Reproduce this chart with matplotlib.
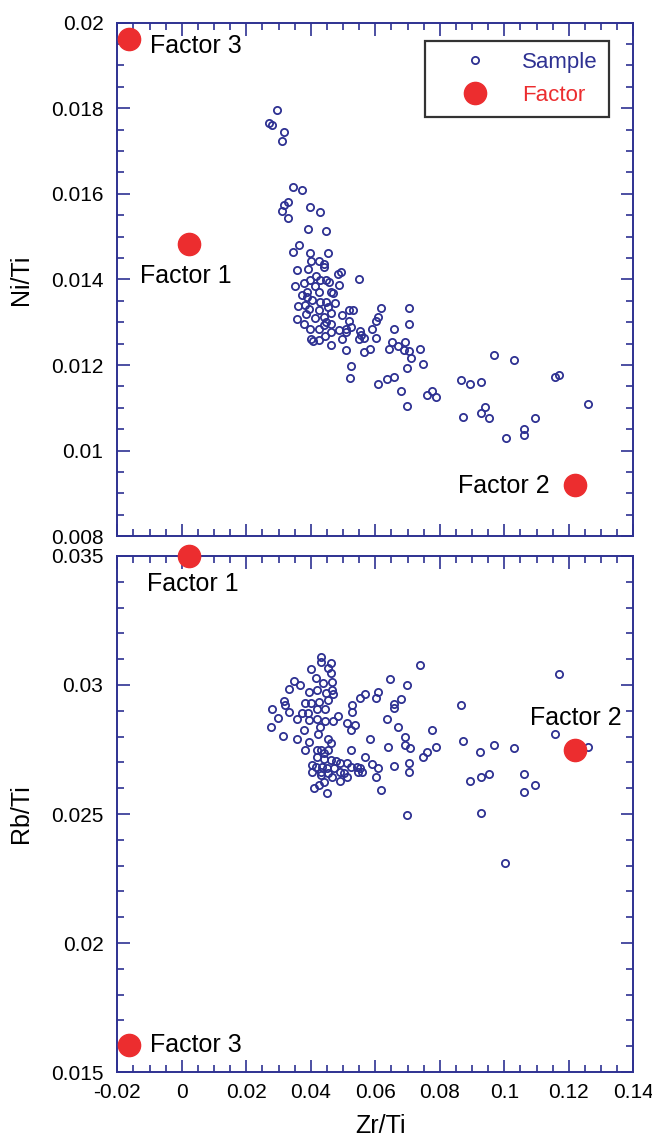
import numpy as np
import matplotlib
matplotlib.use('Agg')
import matplotlib.pyplot as plt
from matplotlib.ticker import MultipleLocator, FuncFormatter
from matplotlib.lines import Line2D

plt.rcParams['font.family'] = ['Liberation Sans', 'DejaVu Sans']

# samples, upper panel (Zr/Ti vs Ni/Ti)
zr_top = [0.0295, 0.0271, 0.0279, 0.0318, 0.0312, 0.0346, 0.0374, 0.0316, 0.0329, 0.0396,
          0.0429, 0.0312, 0.0329, 0.0390, 0.0448, 0.0362, 0.0345, 0.0396, 0.0452,
          0.0358, 0.0391, 0.0399, 0.0426, 0.0442, 0.0442, 0.0352, 0.0379, 0.0397, 0.0415,
          0.0429, 0.0448, 0.0455, 0.0484, 0.0492, 0.0486, 0.0548, 0.0388, 0.0412, 0.0426,
          0.0464, 0.0469, 0.0371, 0.0388, 0.0404, 0.0429, 0.0448, 0.0475, 0.0361, 0.0382,
          0.0393, 0.0426, 0.0453, 0.0464, 0.0386, 0.0412, 0.0442, 0.0448, 0.0464, 0.0357,
          0.0380, 0.0397, 0.0426, 0.0442, 0.0497, 0.0518, 0.0531, 0.0518, 0.0524, 0.0508,
          0.0486, 0.0497, 0.0508, 0.0464, 0.0445, 0.0399, 0.0407, 0.0426, 0.0464, 0.0508,
          0.0551, 0.0557, 0.0548, 0.0565, 0.0564, 0.0525, 0.0520,
          0.0619, 0.0607, 0.0602, 0.0591, 0.0602, 0.0584, 0.0703, 0.0659, 0.0703, 0.0651,
          0.0693, 0.0670, 0.0641, 0.0688, 0.0703, 0.0737, 0.0709, 0.0748, 0.0698, 0.0967,
          0.1029, 0.0607, 0.0636, 0.0659, 0.0680, 0.0698, 0.0760, 0.0777, 0.0788, 0.0865,
          0.0894, 0.0929, 0.0873, 0.0928, 0.0940, 0.0951, 0.1006, 0.1062, 0.1062, 0.1096,
          0.1158, 0.1170, 0.1259]
ni_top = [0.01796, 0.01766, 0.01761, 0.01744, 0.01723, 0.01616, 0.01608, 0.01575, 0.01580, 0.01569,
          0.01557, 0.01561, 0.01544, 0.01518, 0.01514, 0.01480, 0.01464, 0.01463, 0.01463,
          0.01421, 0.01425, 0.01442, 0.01442, 0.01436, 0.01429, 0.01384, 0.01391, 0.01399, 0.01409,
          0.01398, 0.01398, 0.01395, 0.01413, 0.01417, 0.01388, 0.01400, 0.01371, 0.01384, 0.01371,
          0.01371, 0.01368, 0.01363, 0.01359, 0.01351, 0.01347, 0.01347, 0.01346, 0.01337, 0.01341,
          0.01332, 0.01328, 0.01336, 0.01322, 0.01320, 0.01309, 0.01312, 0.01301, 0.01295, 0.01307,
          0.01295, 0.01285, 0.01285, 0.01293, 0.01316, 0.01328, 0.01328, 0.01303, 0.01289, 0.01285,
          0.01281, 0.01262, 0.01278, 0.01278, 0.01268, 0.01262, 0.01257, 0.01258, 0.01248, 0.01236,
          0.01279, 0.01271, 0.01262, 0.01264, 0.01231, 0.01198, 0.01169,
          0.01334, 0.01313, 0.01304, 0.01284, 0.01263, 0.01237, 0.01334, 0.01284, 0.01296, 0.01255,
          0.01255, 0.01245, 0.01237, 0.01236, 0.01234, 0.01237, 0.01216, 0.01203, 0.01194, 0.01224,
          0.01211, 0.01156, 0.01168, 0.01173, 0.01140, 0.01105, 0.01130, 0.01140, 0.01126, 0.01164,
          0.01156, 0.01160, 0.01079, 0.01087, 0.01101, 0.01076, 0.01029, 0.01050, 0.01037, 0.01076,
          0.01173, 0.01177, 0.01109]

# samples, lower panel (Zr/Ti vs Rb/Ti)
zr_bot = [0.0433, 0.0433, 0.0461, 0.0453, 0.0461, 0.0399, 0.0417, 0.0437, 0.0466, 0.0347,
          0.0366, 0.0332, 0.0394, 0.0418, 0.0446, 0.0466, 0.0469, 0.0454, 0.0425, 0.0383,
          0.0399, 0.0316, 0.0321, 0.0280, 0.0332, 0.0298, 0.0275, 0.0314, 0.0358, 0.0373,
          0.0391, 0.0418, 0.0443, 0.0418, 0.0394, 0.0443, 0.0469, 0.0484, 0.0428, 0.0378,
          0.0358, 0.0423, 0.0454, 0.0461, 0.0394, 0.0383, 0.0418, 0.0430, 0.0453, 0.0442,
          0.0523, 0.0513, 0.0523, 0.0536, 0.0528, 0.0528, 0.0551, 0.0567, 0.0420, 0.0442,
          0.0461, 0.0477, 0.0490, 0.0513, 0.0404, 0.0417, 0.0435, 0.0449, 0.0471, 0.0404,
          0.0430, 0.0454, 0.0490, 0.0502, 0.0513, 0.0523, 0.0546, 0.0551, 0.0559, 0.0567,
          0.0544, 0.0466, 0.0490, 0.0430, 0.0440, 0.0425, 0.0409, 0.0451,
          0.0584, 0.0608, 0.0601, 0.0635, 0.0639, 0.0645, 0.0590, 0.0608, 0.0601, 0.0619,
          0.0737, 0.0698, 0.0680, 0.0659, 0.0659, 0.0865, 0.0670, 0.0693, 0.0693, 0.0708,
          0.0775, 0.0788, 0.0748, 0.0760, 0.0872, 0.0926, 0.0967, 0.1029, 0.0659, 0.0703,
          0.0703, 0.0698, 0.0894, 0.0928, 0.0951, 0.0928, 0.1062, 0.1062, 0.1096, 0.1170,
          0.1158, 0.1259, 0.1001]
rb_bot = [0.03107, 0.03090, 0.03084, 0.03065, 0.03048, 0.03062, 0.03028, 0.03009, 0.03013, 0.03017,
          0.03000, 0.02984, 0.02972, 0.02981, 0.02968, 0.02981, 0.02964, 0.02942, 0.02935, 0.02931,
          0.02929, 0.02938, 0.02922, 0.02907, 0.02894, 0.02873, 0.02838, 0.02802, 0.02867, 0.02893,
          0.02893, 0.02907, 0.02907, 0.02868, 0.02864, 0.02860, 0.02860, 0.02880, 0.02838, 0.02826,
          0.02791, 0.02810, 0.02791, 0.02774, 0.02778, 0.02748, 0.02748, 0.02748, 0.02748, 0.02735,
          0.02748, 0.02854, 0.02826, 0.02845, 0.02894, 0.02922, 0.02951, 0.02965, 0.02720, 0.02713,
          0.02709, 0.02705, 0.02699, 0.02699, 0.02690, 0.02683, 0.02683, 0.02677, 0.02677, 0.02662,
          0.02664, 0.02660, 0.02664, 0.02658, 0.02645, 0.02683, 0.02664, 0.02677, 0.02664, 0.02720,
          0.02683, 0.02642, 0.02628, 0.02651, 0.02625, 0.02612, 0.02600, 0.02580,
          0.02790, 0.02972, 0.02951, 0.02867, 0.02761, 0.03022, 0.02693, 0.02677, 0.02642, 0.02593,
          0.03078, 0.03000, 0.02945, 0.02925, 0.02910, 0.02922, 0.02838, 0.02797, 0.02767, 0.02755,
          0.02826, 0.02761, 0.02720, 0.02739, 0.02783, 0.02740, 0.02767, 0.02755, 0.02686, 0.02697,
          0.02662, 0.02496, 0.02628, 0.02642, 0.02655, 0.02503, 0.02655, 0.02585, 0.02612, 0.03043,
          0.02810, 0.02761, 0.02310]

# end-member factors
factor_names = ['Factor 1', 'Factor 2', 'Factor 3']
factor_zr = [0.0021, 0.1218, -0.0164]
factor_ni = [0.01482, 0.0092, 0.01962]
factor_rb = [0.0350, 0.02748, 0.01606]

blue = '#2E3192'
red = '#EC2D2F'

fig = plt.figure(figsize=(6.52, 11.4), dpi=100)
ax1 = fig.add_axes([0.180, 0.5296, 0.7914, 0.4505])
ax2 = fig.add_axes([0.180, 0.0596, 0.7914, 0.4527])

fmt = FuncFormatter(lambda v, p: '%g' % round(v, 6))


def style(ax, ymajor, yminor):
    ax.set_xlim(-0.02, 0.14)
    ax.xaxis.set_major_locator(MultipleLocator(0.02))
    ax.xaxis.set_minor_locator(MultipleLocator(0.005))
    ax.yaxis.set_major_locator(MultipleLocator(ymajor))
    ax.yaxis.set_minor_locator(MultipleLocator(yminor))
    ax.xaxis.set_major_formatter(fmt)
    ax.yaxis.set_major_formatter(fmt)
    for s in ax.spines.values():
        s.set_color(blue)
        s.set_linewidth(1.4)
    ax.tick_params(which='both', direction='in', top=True, right=True,
                   color=blue, width=1.2, labelsize=15, labelcolor='black')
    ax.tick_params(which='major', length=9)
    ax.tick_params(which='minor', length=5)
    ax.tick_params(axis='y', pad=10)
    ax.tick_params(axis='x', pad=8)


# upper panel
style(ax1, 0.002, 0.0005)
ax1.set_ylim(0.008, 0.02)
ax1.plot(zr_top, ni_top, 'o', ms=5.2, mfc='none', mec=blue, mew=1.3, ls='none')
ax1.plot(factor_zr, factor_ni, 'o', ms=16, color=red, ls='none', clip_on=False, zorder=5)
ax1.tick_params(axis='x', labelbottom=False)
ax1.set_ylabel('Ni/Ti', fontsize=18)
ax1.yaxis.set_label_coords(-0.163, 0.5)

ax1.annotate('Factor 1', (factor_zr[0], factor_ni[0]), xytext=(-2, -23), textcoords='offset points',
             ha='center', va='center', fontsize=18)
ax1.annotate('Factor 2', (factor_zr[1], factor_ni[1]), xytext=(-18, -1), textcoords='offset points',
             ha='right', va='center', fontsize=18)
ax1.annotate('Factor 3', (factor_zr[2], factor_ni[2]), xytext=(15, -5), textcoords='offset points',
             ha='left', va='center', fontsize=18)

h1 = Line2D([], [], marker='o', ms=5.2, mfc='none', mec=blue, mew=1.3, ls='none')
h2 = Line2D([], [], marker='o', ms=16, color=red, ls='none')
leg = ax1.legend([h1, h2], ['Sample', 'Factor'], loc='upper left', bbox_to_anchor=(0.597, 0.965),
                 fontsize=16, frameon=True, fancybox=False, borderpad=0.5, labelspacing=0.55,
                 handlelength=3.5, handletextpad=0.35, borderaxespad=0)
leg.get_frame().set_edgecolor('black')
leg.get_frame().set_linewidth(1.6)
leg.get_texts()[0].set_color(blue)
leg.get_texts()[1].set_color(red)

# lower panel
style(ax2, 0.005, 0.001)
ax2.set_ylim(0.015, 0.035)
ax2.plot(zr_bot, rb_bot, 'o', ms=5.2, mfc='none', mec=blue, mew=1.3, ls='none')
ax2.plot(factor_zr, factor_rb, 'o', ms=16, color=red, ls='none', clip_on=False, zorder=5)
ax2.set_ylabel('Rb/Ti', fontsize=18)
ax2.yaxis.set_label_coords(-0.163, 0.5)
ax2.set_xlabel('Zr/Ti', fontsize=18)
ax2.xaxis.set_label_coords(0.51, -0.082)

ax2.annotate('Factor 1', (factor_zr[0], factor_rb[0]), xytext=(3, -20), textcoords='offset points',
             ha='center', va='center', fontsize=18)
ax2.annotate('Factor 2', (factor_zr[1], factor_rb[1]), xytext=(1, 23), textcoords='offset points',
             ha='center', va='center', fontsize=18)
ax2.annotate('Factor 3', (factor_zr[2], factor_rb[2]), xytext=(15, 0), textcoords='offset points',
             ha='left', va='center', fontsize=18)

fig.savefig('out.png', dpi=100)
